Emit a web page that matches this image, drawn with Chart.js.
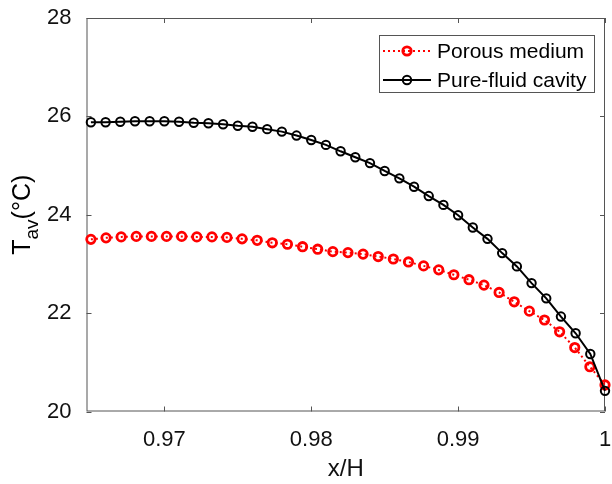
<!DOCTYPE html>
<html>
<head>
<meta charset="utf-8">
<script src="https://cdn.jsdelivr.net/npm/chart.js"></script>
<style>
  html, body { margin: 0; padding: 0; background: #fff; }
  canvas { display: block; }
</style>
</head>
<body>
<canvas id="myChart" width="612" height="484"></canvas>
<script>
// x/H positions and average temperature
const xPorous = [0.96500, 0.96603, 0.96706, 0.96809, 0.96912, 0.97015, 0.97118, 0.97221, 0.97324,
  0.97426, 0.97529, 0.97632, 0.97735, 0.97838, 0.97941, 0.98044, 0.98147, 0.98250, 0.98353,
  0.98456, 0.98559, 0.98662, 0.98765, 0.98868, 0.98971, 0.99074, 0.99176, 0.99279, 0.99382,
  0.99485, 0.99588, 0.99691, 0.99794, 0.99897, 1.00000];
const tPorous = [23.50, 23.53, 23.55, 23.56, 23.56, 23.56, 23.56, 23.55, 23.55,
  23.54, 23.51, 23.48, 23.43, 23.40, 23.35, 23.30, 23.25, 23.23, 23.20,
  23.15, 23.10, 23.04, 22.96, 22.88, 22.78, 22.68, 22.57, 22.42, 22.23,
  22.04, 21.86, 21.62, 21.30, 20.91, 20.54];

const xFluid = [0.965, 0.966, 0.967, 0.968, 0.969, 0.970, 0.971, 0.972, 0.973, 0.974, 0.975, 0.976,
  0.977, 0.978, 0.979, 0.980, 0.981, 0.982, 0.983, 0.984, 0.985, 0.986, 0.987, 0.988,
  0.989, 0.990, 0.991, 0.992, 0.993, 0.994, 0.995, 0.996, 0.997, 0.998, 0.999, 1.000];
const tFluid = [25.88, 25.88, 25.89, 25.90, 25.90, 25.90, 25.89, 25.87, 25.86, 25.84, 25.81, 25.79,
  25.74, 25.69, 25.61, 25.52, 25.42, 25.29, 25.17, 25.05, 24.89, 24.74, 24.57, 24.38,
  24.20, 23.99, 23.74, 23.51, 23.22, 22.95, 22.61, 22.30, 21.93, 21.59, 21.17, 20.42];

const seriesNames = ['Porous medium', 'Pure-fluid cavity'];
const xTicks = [0.97, 0.98, 0.99, 1];
const xTickLabels = ['0.97', '0.98', '0.99', '1'];
const yTicks = [20, 22, 24, 26, 28];
const yTickLabels = ['20', '22', '24', '26', '28'];
const xMin = 0.9647, xMax = 1.0;
const yMin = 20, yMax = 28;

const FONT = 'Liberation Sans, Arial, sans-serif';

function pts(xs, ys) {
  return xs.map((x, i) => ({ x: x, y: ys[i] }));
}

// box around the axes with inward tick marks (matlab style)
const boxPlugin = {
  id: 'box',
  beforeDatasetsDraw(chart) {
    const { ctx, chartArea: a, scales } = chart;
    const len = 5;
    ctx.save();
    ctx.strokeStyle = '#555';
    ctx.lineWidth = 1;
    ctx.strokeRect(a.left + 0.5, a.top + 0.5, a.right - a.left - 1, a.bottom - a.top - 1);
    ctx.beginPath();
    xTicks.forEach(v => {
      const px = Math.round(scales.x.getPixelForValue(v)) + 0.5;
      ctx.moveTo(px, a.bottom); ctx.lineTo(px, a.bottom - len);
      ctx.moveTo(px, a.top); ctx.lineTo(px, a.top + len);
    });
    yTicks.forEach(v => {
      const py = Math.round(scales.y.getPixelForValue(v)) + 0.5;
      ctx.moveTo(a.left, py); ctx.lineTo(a.left + len, py);
      ctx.moveTo(a.right, py); ctx.lineTo(a.right - len, py);
    });
    ctx.stroke();
    ctx.restore();
  },
  afterDraw(chart) {
    const { ctx, chartArea: a } = chart;
    ctx.save();
    // y title: T_av(°C), rotated
    const big = '25px ' + FONT, small = '19px ' + FONT;
    ctx.font = big; const wT = ctx.measureText('T').width; const wC = ctx.measureText('(°C)').width;
    ctx.font = small; const wAv = ctx.measureText('av').width;
    const total = wT + wAv + wC;
    ctx.translate(30, (a.top + a.bottom) / 2);
    ctx.rotate(-Math.PI / 2);
    ctx.fillStyle = '#000';
    ctx.textBaseline = 'alphabetic';
    let x0 = -total / 2;
    ctx.font = big; ctx.fillText('T', x0, 0); x0 += wT;
    ctx.font = small; ctx.fillText('av', x0, 8); x0 += wAv;
    ctx.font = big; ctx.fillText('(°C)', x0, 0);
    ctx.restore();

    // legend
    ctx.save();
    const bx = 379, by = 35, bw = 215, bh = 57;
    ctx.fillStyle = '#fff';
    ctx.fillRect(bx, by, bw, bh);
    ctx.strokeStyle = '#555';
    ctx.lineWidth = 1;
    ctx.strokeRect(bx + 0.5, by + 0.5, bw, bh);
    const rows = [51, 80];
    chart.data.datasets.forEach((ds, i) => {
      const y = rows[i];
      ctx.strokeStyle = ds.borderColor;
      ctx.lineWidth = ds.borderWidth;
      ctx.setLineDash(ds.borderDash || []);
      ctx.beginPath(); ctx.moveTo(383, y); ctx.lineTo(431, y); ctx.stroke();
      ctx.setLineDash([]);
      ctx.lineWidth = ds.pointBorderWidth;
      ctx.beginPath(); ctx.arc(407, y, ds.pointRadius, 0, Math.PI * 2); ctx.stroke();
      ctx.fillStyle = '#000';
      ctx.font = '21px ' + FONT;
      ctx.textBaseline = 'middle';
      ctx.fillText(ds.label, 437, y + 1);
    });
    ctx.restore();
  }
};

const config = {
  type: 'scatter',
  data: {
    datasets: [
      {
        label: seriesNames[0],
        data: pts(xPorous, tPorous),
        showLine: true,
        borderColor: '#ff0000',
        borderWidth: 2,
        borderDash: [2, 3],
        pointStyle: 'circle',
        pointRadius: 4.2,
        pointBorderWidth: 2.8,
        pointBorderColor: '#ff0000',
        pointBackgroundColor: 'rgba(0,0,0,0)',
        tension: 0,
        order: 2,
        clip: false
      },
      {
        label: seriesNames[1],
        data: pts(xFluid, tFluid),
        showLine: true,
        borderColor: '#000000',
        borderWidth: 2,
        pointStyle: 'circle',
        pointRadius: 4.2,
        pointBorderWidth: 2,
        pointBorderColor: '#000000',
        pointBackgroundColor: 'rgba(0,0,0,0)',
        tension: 0,
        order: 1,
        clip: false
      }
    ]
  },
  options: {
    responsive: false,
    animation: false,
    layout: { padding: { top: 18, right: 1.5, left: 0, bottom: 0 } },
    plugins: {
      legend: { display: false },
      tooltip: { enabled: false }
    },
    scales: {
      x: {
        type: 'linear',
        min: xMin,
        max: xMax,
        afterBuildTicks: s => { s.ticks = xTicks.map(v => ({ value: v })); },
        afterFit: s => { s.height = 72.5; s.paddingLeft = 0; s.paddingRight = 0; },
        grid: { display: false },
        border: { display: false },
        ticks: {
          autoSkip: false,
          maxRotation: 0,
          padding: 7,
          color: '#111',
          font: { family: FONT, size: 22 },
          callback: (v, i) => xTickLabels[i]
        },
        title: {
          display: true,
          text: 'x/H',
          color: '#111',
          font: { family: FONT, size: 24, lineHeight: 1 },
          padding: { top: 0, bottom: 3 }
        }
      },
      y: {
        type: 'linear',
        min: yMin,
        max: yMax,
        afterBuildTicks: s => { s.ticks = yTicks.map(v => ({ value: v })); },
        afterFit: s => { s.width = 86.5; s.paddingTop = 0; s.paddingBottom = 0; },
        grid: { display: false },
        border: { display: false },
        ticks: {
          autoSkip: false,
          padding: 7,
          color: '#111',
          font: { family: FONT, size: 22 },
          callback: (v, i) => yTickLabels[i]
        }
      }
    }
  },
  plugins: [boxPlugin]
};

const ctx = document.getElementById('myChart').getContext('2d');
const myChart = new Chart(ctx, config);
</script>
</body>
</html>
